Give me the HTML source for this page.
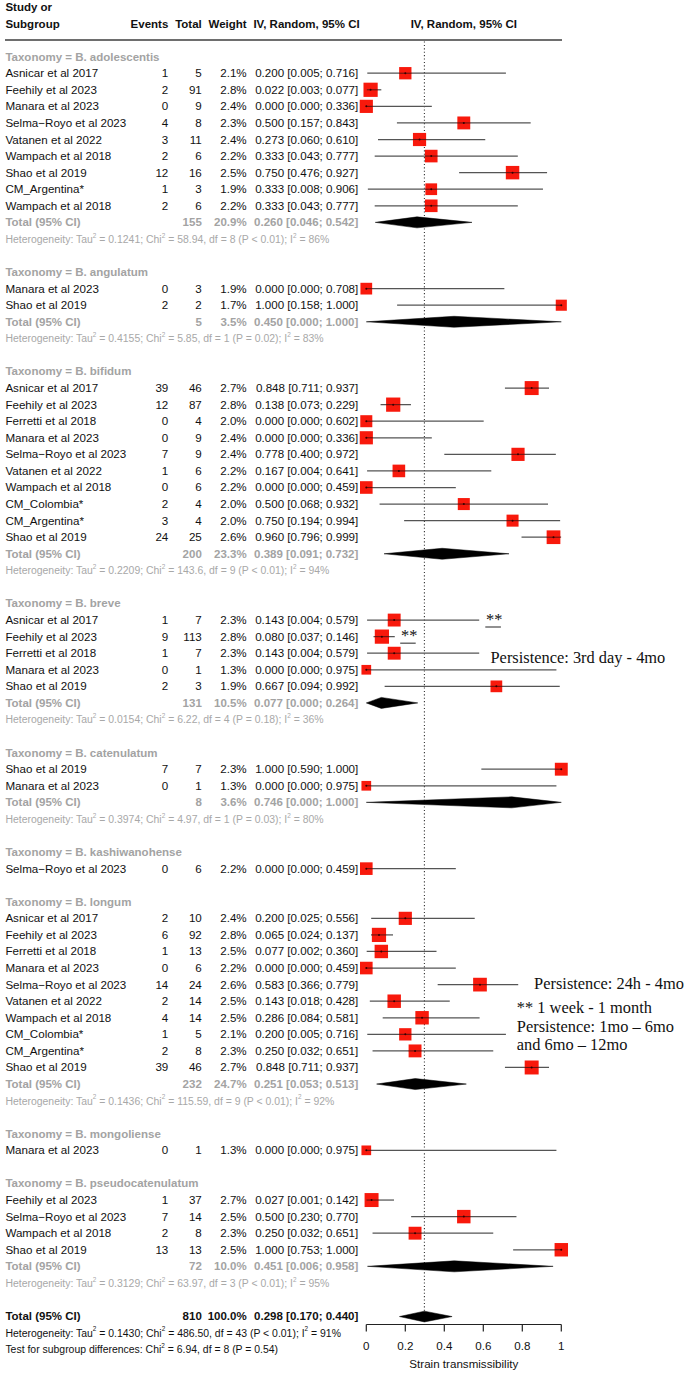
<!DOCTYPE html>
<html><head><meta charset="utf-8"><style>
html,body{margin:0;padding:0;background:#fff;}
svg{display:block;}
svg text{font-family:"Liberation Sans",sans-serif;}
</style></head><body>
<svg width="685" height="1374" viewBox="0 0 685 1374">
<rect width="685" height="1374" fill="#fff"/>
<line x1="5" y1="40" x2="562" y2="40" stroke="#6e6e6e" stroke-width="2"/>
<line x1="424.41" y1="41.5" x2="424.41" y2="1323" stroke="#333" stroke-width="1.1" stroke-dasharray="1.1 2.3"/>
<line x1="367.28" y1="73.22" x2="505.92" y2="73.22" stroke="#555" stroke-width="1.25"/>
<rect x="399.14" y="67.06" width="12.32" height="12.32" fill="#f8190c"/>
<line x1="399.14" y1="73.22" x2="411.46" y2="73.22" stroke="#3a1010" stroke-width="1.1" opacity="0.75"/>
<circle cx="405.30" cy="73.22" r="1.0" fill="#300"/>
<line x1="366.88" y1="89.79" x2="381.31" y2="89.79" stroke="#555" stroke-width="1.25"/>
<rect x="363.48" y="82.68" width="14.22" height="14.22" fill="#f8190c"/>
<line x1="366.88" y1="89.79" x2="377.70" y2="89.79" stroke="#3a1010" stroke-width="1.1" opacity="0.75"/>
<circle cx="370.59" cy="89.79" r="1.0" fill="#300"/>
<line x1="366.30" y1="106.36" x2="431.82" y2="106.36" stroke="#555" stroke-width="1.25"/>
<rect x="359.72" y="99.78" width="13.17" height="13.17" fill="#f8190c"/>
<line x1="366.30" y1="106.36" x2="372.88" y2="106.36" stroke="#3a1010" stroke-width="1.1" opacity="0.75"/>
<circle cx="366.30" cy="106.36" r="1.0" fill="#300"/>
<line x1="396.92" y1="122.93" x2="530.68" y2="122.93" stroke="#555" stroke-width="1.25"/>
<rect x="457.35" y="116.49" width="12.89" height="12.89" fill="#f8190c"/>
<line x1="457.35" y1="122.93" x2="470.25" y2="122.93" stroke="#3a1010" stroke-width="1.1" opacity="0.75"/>
<circle cx="463.80" cy="122.93" r="1.0" fill="#300"/>
<line x1="378.00" y1="139.51" x2="485.25" y2="139.51" stroke="#555" stroke-width="1.25"/>
<rect x="412.95" y="132.92" width="13.17" height="13.17" fill="#f8190c"/>
<line x1="412.95" y1="139.51" x2="426.12" y2="139.51" stroke="#3a1010" stroke-width="1.1" opacity="0.75"/>
<circle cx="419.54" cy="139.51" r="1.0" fill="#300"/>
<line x1="374.69" y1="156.08" x2="517.82" y2="156.08" stroke="#555" stroke-width="1.25"/>
<rect x="424.93" y="149.77" width="12.61" height="12.61" fill="#f8190c"/>
<line x1="424.93" y1="156.08" x2="437.54" y2="156.08" stroke="#3a1010" stroke-width="1.1" opacity="0.75"/>
<circle cx="431.24" cy="156.08" r="1.0" fill="#300"/>
<line x1="459.12" y1="172.65" x2="547.07" y2="172.65" stroke="#555" stroke-width="1.25"/>
<rect x="505.83" y="165.93" width="13.44" height="13.44" fill="#f8190c"/>
<line x1="505.83" y1="172.65" x2="519.27" y2="172.65" stroke="#3a1010" stroke-width="1.1" opacity="0.75"/>
<circle cx="512.55" cy="172.65" r="1.0" fill="#300"/>
<line x1="367.86" y1="189.22" x2="542.97" y2="189.22" stroke="#555" stroke-width="1.25"/>
<rect x="425.38" y="183.36" width="11.72" height="11.72" fill="#f8190c"/>
<line x1="425.38" y1="189.22" x2="437.09" y2="189.22" stroke="#3a1010" stroke-width="1.1" opacity="0.75"/>
<circle cx="431.24" cy="189.22" r="1.0" fill="#300"/>
<line x1="374.69" y1="205.79" x2="517.82" y2="205.79" stroke="#555" stroke-width="1.25"/>
<rect x="424.93" y="199.49" width="12.61" height="12.61" fill="#f8190c"/>
<line x1="424.93" y1="205.79" x2="437.54" y2="205.79" stroke="#3a1010" stroke-width="1.1" opacity="0.75"/>
<circle cx="431.24" cy="205.79" r="1.0" fill="#300"/>
<polygon points="375.27,222.36 417.00,216.86 471.99,222.36 417.00,227.86" fill="#000" stroke="#000" stroke-width="0.5"/>
<line x1="366.30" y1="288.64" x2="504.36" y2="288.64" stroke="#555" stroke-width="1.25"/>
<rect x="360.44" y="282.79" width="11.72" height="11.72" fill="#f8190c"/>
<line x1="366.30" y1="288.64" x2="372.16" y2="288.64" stroke="#3a1010" stroke-width="1.1" opacity="0.75"/>
<circle cx="366.30" cy="288.64" r="1.0" fill="#300"/>
<line x1="397.11" y1="305.22" x2="561.30" y2="305.22" stroke="#555" stroke-width="1.25"/>
<rect x="555.76" y="299.67" width="11.08" height="11.08" fill="#f8190c"/>
<line x1="555.76" y1="305.22" x2="561.30" y2="305.22" stroke="#3a1010" stroke-width="1.1" opacity="0.75"/>
<circle cx="561.30" cy="305.22" r="1.0" fill="#300"/>
<polygon points="366.30,321.79 454.05,316.29 561.30,321.79 454.05,327.29" fill="#000" stroke="#000" stroke-width="0.5"/>
<line x1="504.94" y1="388.07" x2="549.01" y2="388.07" stroke="#555" stroke-width="1.25"/>
<rect x="524.68" y="381.09" width="13.97" height="13.97" fill="#f8190c"/>
<line x1="524.68" y1="388.07" x2="538.64" y2="388.07" stroke="#3a1010" stroke-width="1.1" opacity="0.75"/>
<circle cx="531.66" cy="388.07" r="1.0" fill="#300"/>
<line x1="380.54" y1="404.64" x2="410.96" y2="404.64" stroke="#555" stroke-width="1.25"/>
<rect x="386.10" y="397.53" width="14.22" height="14.22" fill="#f8190c"/>
<line x1="386.10" y1="404.64" x2="400.32" y2="404.64" stroke="#3a1010" stroke-width="1.1" opacity="0.75"/>
<circle cx="393.21" cy="404.64" r="1.0" fill="#300"/>
<line x1="366.30" y1="421.21" x2="483.69" y2="421.21" stroke="#555" stroke-width="1.25"/>
<rect x="360.29" y="415.20" width="12.02" height="12.02" fill="#f8190c"/>
<line x1="366.30" y1="421.21" x2="372.31" y2="421.21" stroke="#3a1010" stroke-width="1.1" opacity="0.75"/>
<circle cx="366.30" cy="421.21" r="1.0" fill="#300"/>
<line x1="366.30" y1="437.78" x2="431.82" y2="437.78" stroke="#555" stroke-width="1.25"/>
<rect x="359.72" y="431.20" width="13.17" height="13.17" fill="#f8190c"/>
<line x1="366.30" y1="437.78" x2="372.88" y2="437.78" stroke="#3a1010" stroke-width="1.1" opacity="0.75"/>
<circle cx="366.30" cy="437.78" r="1.0" fill="#300"/>
<line x1="444.30" y1="454.35" x2="555.84" y2="454.35" stroke="#555" stroke-width="1.25"/>
<rect x="511.43" y="447.77" width="13.17" height="13.17" fill="#f8190c"/>
<line x1="511.43" y1="454.35" x2="524.59" y2="454.35" stroke="#3a1010" stroke-width="1.1" opacity="0.75"/>
<circle cx="518.01" cy="454.35" r="1.0" fill="#300"/>
<line x1="367.08" y1="470.93" x2="491.30" y2="470.93" stroke="#555" stroke-width="1.25"/>
<rect x="392.56" y="464.62" width="12.61" height="12.61" fill="#f8190c"/>
<line x1="392.56" y1="470.93" x2="405.17" y2="470.93" stroke="#3a1010" stroke-width="1.1" opacity="0.75"/>
<circle cx="398.87" cy="470.93" r="1.0" fill="#300"/>
<line x1="366.30" y1="487.50" x2="455.81" y2="487.50" stroke="#555" stroke-width="1.25"/>
<rect x="360.00" y="481.19" width="12.61" height="12.61" fill="#f8190c"/>
<line x1="366.30" y1="487.50" x2="372.60" y2="487.50" stroke="#3a1010" stroke-width="1.1" opacity="0.75"/>
<circle cx="366.30" cy="487.50" r="1.0" fill="#300"/>
<line x1="379.56" y1="504.07" x2="548.04" y2="504.07" stroke="#555" stroke-width="1.25"/>
<rect x="457.79" y="498.06" width="12.02" height="12.02" fill="#f8190c"/>
<line x1="457.79" y1="504.07" x2="469.81" y2="504.07" stroke="#3a1010" stroke-width="1.1" opacity="0.75"/>
<circle cx="463.80" cy="504.07" r="1.0" fill="#300"/>
<line x1="404.13" y1="520.64" x2="560.13" y2="520.64" stroke="#555" stroke-width="1.25"/>
<rect x="506.54" y="514.63" width="12.02" height="12.02" fill="#f8190c"/>
<line x1="506.54" y1="520.64" x2="518.56" y2="520.64" stroke="#3a1010" stroke-width="1.1" opacity="0.75"/>
<circle cx="512.55" cy="520.64" r="1.0" fill="#300"/>
<line x1="521.52" y1="537.21" x2="561.11" y2="537.21" stroke="#555" stroke-width="1.25"/>
<rect x="546.65" y="530.36" width="13.71" height="13.71" fill="#f8190c"/>
<line x1="546.65" y1="537.21" x2="560.35" y2="537.21" stroke="#3a1010" stroke-width="1.1" opacity="0.75"/>
<circle cx="553.50" cy="537.21" r="1.0" fill="#300"/>
<polygon points="384.05,553.78 442.16,548.28 509.04,553.78 442.16,559.28" fill="#000" stroke="#000" stroke-width="0.5"/>
<line x1="367.08" y1="620.06" x2="479.20" y2="620.06" stroke="#555" stroke-width="1.25"/>
<rect x="387.74" y="613.62" width="12.89" height="12.89" fill="#f8190c"/>
<line x1="387.74" y1="620.06" x2="400.63" y2="620.06" stroke="#3a1010" stroke-width="1.1" opacity="0.75"/>
<circle cx="394.19" cy="620.06" r="1.0" fill="#300"/>
<line x1="373.51" y1="636.63" x2="394.77" y2="636.63" stroke="#555" stroke-width="1.25"/>
<rect x="374.79" y="629.52" width="14.22" height="14.22" fill="#f8190c"/>
<line x1="374.79" y1="636.63" x2="389.01" y2="636.63" stroke="#3a1010" stroke-width="1.1" opacity="0.75"/>
<circle cx="381.90" cy="636.63" r="1.0" fill="#300"/>
<line x1="367.08" y1="653.21" x2="479.20" y2="653.21" stroke="#555" stroke-width="1.25"/>
<rect x="387.74" y="646.76" width="12.89" height="12.89" fill="#f8190c"/>
<line x1="387.74" y1="653.21" x2="400.63" y2="653.21" stroke="#3a1010" stroke-width="1.1" opacity="0.75"/>
<circle cx="394.19" cy="653.21" r="1.0" fill="#300"/>
<line x1="366.30" y1="669.78" x2="556.42" y2="669.78" stroke="#555" stroke-width="1.25"/>
<rect x="361.45" y="664.93" width="9.69" height="9.69" fill="#f8190c"/>
<line x1="366.30" y1="669.78" x2="371.15" y2="669.78" stroke="#3a1010" stroke-width="1.1" opacity="0.75"/>
<circle cx="366.30" cy="669.78" r="1.0" fill="#300"/>
<line x1="384.63" y1="686.35" x2="559.74" y2="686.35" stroke="#555" stroke-width="1.25"/>
<rect x="490.51" y="680.49" width="11.72" height="11.72" fill="#f8190c"/>
<line x1="490.51" y1="686.35" x2="502.22" y2="686.35" stroke="#3a1010" stroke-width="1.1" opacity="0.75"/>
<circle cx="496.37" cy="686.35" r="1.0" fill="#300"/>
<polygon points="366.30,702.92 381.31,697.42 417.78,702.92 381.31,708.42" fill="#000" stroke="#000" stroke-width="0.5"/>
<line x1="481.35" y1="769.20" x2="561.30" y2="769.20" stroke="#555" stroke-width="1.25"/>
<rect x="554.85" y="762.76" width="12.89" height="12.89" fill="#f8190c"/>
<line x1="554.85" y1="769.20" x2="561.30" y2="769.20" stroke="#3a1010" stroke-width="1.1" opacity="0.75"/>
<circle cx="561.30" cy="769.20" r="1.0" fill="#300"/>
<line x1="366.30" y1="785.77" x2="556.42" y2="785.77" stroke="#555" stroke-width="1.25"/>
<rect x="361.45" y="780.93" width="9.69" height="9.69" fill="#f8190c"/>
<line x1="366.30" y1="785.77" x2="371.15" y2="785.77" stroke="#3a1010" stroke-width="1.1" opacity="0.75"/>
<circle cx="366.30" cy="785.77" r="1.0" fill="#300"/>
<polygon points="366.30,802.35 511.77,796.85 561.30,802.35 511.77,807.85" fill="#000" stroke="#000" stroke-width="0.5"/>
<line x1="366.30" y1="868.63" x2="455.81" y2="868.63" stroke="#555" stroke-width="1.25"/>
<rect x="360.00" y="862.33" width="12.61" height="12.61" fill="#f8190c"/>
<line x1="366.30" y1="868.63" x2="372.60" y2="868.63" stroke="#3a1010" stroke-width="1.1" opacity="0.75"/>
<circle cx="366.30" cy="868.63" r="1.0" fill="#300"/>
<line x1="371.18" y1="918.34" x2="474.72" y2="918.34" stroke="#555" stroke-width="1.25"/>
<rect x="398.72" y="911.76" width="13.17" height="13.17" fill="#f8190c"/>
<line x1="398.72" y1="918.34" x2="411.88" y2="918.34" stroke="#3a1010" stroke-width="1.1" opacity="0.75"/>
<circle cx="405.30" cy="918.34" r="1.0" fill="#300"/>
<line x1="370.98" y1="934.91" x2="393.01" y2="934.91" stroke="#555" stroke-width="1.25"/>
<rect x="371.86" y="927.80" width="14.22" height="14.22" fill="#f8190c"/>
<line x1="371.86" y1="934.91" x2="386.09" y2="934.91" stroke="#3a1010" stroke-width="1.1" opacity="0.75"/>
<circle cx="378.98" cy="934.91" r="1.0" fill="#300"/>
<line x1="366.69" y1="951.48" x2="436.50" y2="951.48" stroke="#555" stroke-width="1.25"/>
<rect x="374.60" y="944.76" width="13.44" height="13.44" fill="#f8190c"/>
<line x1="374.60" y1="951.48" x2="388.03" y2="951.48" stroke="#3a1010" stroke-width="1.1" opacity="0.75"/>
<circle cx="381.31" cy="951.48" r="1.0" fill="#300"/>
<line x1="366.30" y1="968.06" x2="455.81" y2="968.06" stroke="#555" stroke-width="1.25"/>
<rect x="360.00" y="961.75" width="12.61" height="12.61" fill="#f8190c"/>
<line x1="366.30" y1="968.06" x2="372.60" y2="968.06" stroke="#3a1010" stroke-width="1.1" opacity="0.75"/>
<circle cx="366.30" cy="968.06" r="1.0" fill="#300"/>
<line x1="437.67" y1="984.63" x2="518.21" y2="984.63" stroke="#555" stroke-width="1.25"/>
<rect x="473.13" y="977.77" width="13.71" height="13.71" fill="#f8190c"/>
<line x1="473.13" y1="984.63" x2="486.84" y2="984.63" stroke="#3a1010" stroke-width="1.1" opacity="0.75"/>
<circle cx="479.99" cy="984.63" r="1.0" fill="#300"/>
<line x1="369.81" y1="1001.20" x2="449.76" y2="1001.20" stroke="#555" stroke-width="1.25"/>
<rect x="387.47" y="994.48" width="13.44" height="13.44" fill="#f8190c"/>
<line x1="387.47" y1="1001.20" x2="400.90" y2="1001.20" stroke="#3a1010" stroke-width="1.1" opacity="0.75"/>
<circle cx="394.19" cy="1001.20" r="1.0" fill="#300"/>
<line x1="382.68" y1="1017.77" x2="479.60" y2="1017.77" stroke="#555" stroke-width="1.25"/>
<rect x="415.35" y="1011.05" width="13.44" height="13.44" fill="#f8190c"/>
<line x1="415.35" y1="1017.77" x2="428.79" y2="1017.77" stroke="#3a1010" stroke-width="1.1" opacity="0.75"/>
<circle cx="422.07" cy="1017.77" r="1.0" fill="#300"/>
<line x1="367.28" y1="1034.34" x2="505.92" y2="1034.34" stroke="#555" stroke-width="1.25"/>
<rect x="399.14" y="1028.18" width="12.32" height="12.32" fill="#f8190c"/>
<line x1="399.14" y1="1034.34" x2="411.46" y2="1034.34" stroke="#3a1010" stroke-width="1.1" opacity="0.75"/>
<circle cx="405.30" cy="1034.34" r="1.0" fill="#300"/>
<line x1="372.54" y1="1050.91" x2="493.25" y2="1050.91" stroke="#555" stroke-width="1.25"/>
<rect x="408.60" y="1044.46" width="12.89" height="12.89" fill="#f8190c"/>
<line x1="408.60" y1="1050.91" x2="421.50" y2="1050.91" stroke="#3a1010" stroke-width="1.1" opacity="0.75"/>
<circle cx="415.05" cy="1050.91" r="1.0" fill="#300"/>
<line x1="504.94" y1="1067.48" x2="549.01" y2="1067.48" stroke="#555" stroke-width="1.25"/>
<rect x="524.68" y="1060.50" width="13.97" height="13.97" fill="#f8190c"/>
<line x1="524.68" y1="1067.48" x2="538.64" y2="1067.48" stroke="#3a1010" stroke-width="1.1" opacity="0.75"/>
<circle cx="531.66" cy="1067.48" r="1.0" fill="#300"/>
<polygon points="376.63,1084.05 415.25,1078.55 466.34,1084.05 415.25,1089.55" fill="#000" stroke="#000" stroke-width="0.5"/>
<line x1="366.30" y1="1150.34" x2="556.42" y2="1150.34" stroke="#555" stroke-width="1.25"/>
<rect x="361.45" y="1145.49" width="9.69" height="9.69" fill="#f8190c"/>
<line x1="366.30" y1="1150.34" x2="371.15" y2="1150.34" stroke="#3a1010" stroke-width="1.1" opacity="0.75"/>
<circle cx="366.30" cy="1150.34" r="1.0" fill="#300"/>
<line x1="366.50" y1="1200.05" x2="393.99" y2="1200.05" stroke="#555" stroke-width="1.25"/>
<rect x="364.58" y="1193.07" width="13.97" height="13.97" fill="#f8190c"/>
<line x1="366.50" y1="1200.05" x2="378.55" y2="1200.05" stroke="#3a1010" stroke-width="1.1" opacity="0.75"/>
<circle cx="371.56" cy="1200.05" r="1.0" fill="#300"/>
<line x1="411.15" y1="1216.62" x2="516.45" y2="1216.62" stroke="#555" stroke-width="1.25"/>
<rect x="457.08" y="1209.90" width="13.44" height="13.44" fill="#f8190c"/>
<line x1="457.08" y1="1216.62" x2="470.52" y2="1216.62" stroke="#3a1010" stroke-width="1.1" opacity="0.75"/>
<circle cx="463.80" cy="1216.62" r="1.0" fill="#300"/>
<line x1="372.54" y1="1233.19" x2="493.25" y2="1233.19" stroke="#555" stroke-width="1.25"/>
<rect x="408.60" y="1226.75" width="12.89" height="12.89" fill="#f8190c"/>
<line x1="408.60" y1="1233.19" x2="421.50" y2="1233.19" stroke="#3a1010" stroke-width="1.1" opacity="0.75"/>
<circle cx="415.05" cy="1233.19" r="1.0" fill="#300"/>
<line x1="513.13" y1="1249.76" x2="561.30" y2="1249.76" stroke="#555" stroke-width="1.25"/>
<rect x="554.58" y="1243.04" width="13.44" height="13.44" fill="#f8190c"/>
<line x1="554.58" y1="1249.76" x2="561.30" y2="1249.76" stroke="#3a1010" stroke-width="1.1" opacity="0.75"/>
<circle cx="561.30" cy="1249.76" r="1.0" fill="#300"/>
<polygon points="367.47,1266.33 454.25,1260.83 553.11,1266.33 454.25,1271.83" fill="#000" stroke="#000" stroke-width="0.5"/>
<polygon points="399.45,1316.55 424.41,1311.15 452.10,1316.55 424.41,1321.95" fill="#000" stroke="#000" stroke-width="0.5"/>
<text x="5.4" y="10.9" fill="#111" font-size="11.5" font-weight="bold">Study or</text>
<text x="5.4" y="27.5" fill="#111" font-size="11.5" font-weight="bold">Subgroup</text>
<text x="168.3" y="27.5" text-anchor="end" fill="#111" font-size="11.5" font-weight="bold">Events</text>
<text x="201.8" y="27.5" text-anchor="end" fill="#111" font-size="11.5" font-weight="bold">Total</text>
<text x="246.7" y="27.5" text-anchor="end" fill="#111" font-size="11.5" font-weight="bold">Weight</text>
<text x="359.7" y="27.5" text-anchor="end" fill="#111" font-size="11.5" font-weight="bold">IV, Random, 95% CI</text>
<text x="463.8" y="27.5" text-anchor="middle" fill="#111" font-size="11.5" font-weight="bold">IV, Random, 95% CI</text>
<text x="5.4" y="60.6" fill="#a3a3a3" font-size="11.5" font-weight="bold">Taxonomy = B. adolescentis</text>
<text x="5.4" y="77.2" fill="#111" font-size="11.6">Asnicar et al 2017</text>
<text x="168.3" y="77.2" text-anchor="end" fill="#111" font-size="11.6">1</text>
<text x="201.8" y="77.2" text-anchor="end" fill="#111" font-size="11.6">5</text>
<text x="246.7" y="77.2" text-anchor="end" fill="#111" font-size="11.6">2.1%</text>
<text x="358.3" y="77.2" text-anchor="end" fill="#111" font-size="11.6">0.200 [0.005; 0.716]</text>
<text x="5.4" y="93.7" fill="#111" font-size="11.6">Feehily et al 2023</text>
<text x="168.3" y="93.7" text-anchor="end" fill="#111" font-size="11.6">2</text>
<text x="201.8" y="93.7" text-anchor="end" fill="#111" font-size="11.6">91</text>
<text x="246.7" y="93.7" text-anchor="end" fill="#111" font-size="11.6">2.8%</text>
<text x="358.3" y="93.7" text-anchor="end" fill="#111" font-size="11.6">0.022 [0.003; 0.077]</text>
<text x="5.4" y="110.3" fill="#111" font-size="11.6">Manara et al 2023</text>
<text x="168.3" y="110.3" text-anchor="end" fill="#111" font-size="11.6">0</text>
<text x="201.8" y="110.3" text-anchor="end" fill="#111" font-size="11.6">9</text>
<text x="246.7" y="110.3" text-anchor="end" fill="#111" font-size="11.6">2.4%</text>
<text x="358.3" y="110.3" text-anchor="end" fill="#111" font-size="11.6">0.000 [0.000; 0.336]</text>
<text x="5.4" y="126.9" fill="#111" font-size="11.6">Selma−Royo et al 2023</text>
<text x="168.3" y="126.9" text-anchor="end" fill="#111" font-size="11.6">4</text>
<text x="201.8" y="126.9" text-anchor="end" fill="#111" font-size="11.6">8</text>
<text x="246.7" y="126.9" text-anchor="end" fill="#111" font-size="11.6">2.3%</text>
<text x="358.3" y="126.9" text-anchor="end" fill="#111" font-size="11.6">0.500 [0.157; 0.843]</text>
<text x="5.4" y="143.5" fill="#111" font-size="11.6">Vatanen et al 2022</text>
<text x="168.3" y="143.5" text-anchor="end" fill="#111" font-size="11.6">3</text>
<text x="201.8" y="143.5" text-anchor="end" fill="#111" font-size="11.6">11</text>
<text x="246.7" y="143.5" text-anchor="end" fill="#111" font-size="11.6">2.4%</text>
<text x="358.3" y="143.5" text-anchor="end" fill="#111" font-size="11.6">0.273 [0.060; 0.610]</text>
<text x="5.4" y="160.0" fill="#111" font-size="11.6">Wampach et al 2018</text>
<text x="168.3" y="160.0" text-anchor="end" fill="#111" font-size="11.6">2</text>
<text x="201.8" y="160.0" text-anchor="end" fill="#111" font-size="11.6">6</text>
<text x="246.7" y="160.0" text-anchor="end" fill="#111" font-size="11.6">2.2%</text>
<text x="358.3" y="160.0" text-anchor="end" fill="#111" font-size="11.6">0.333 [0.043; 0.777]</text>
<text x="5.4" y="176.6" fill="#111" font-size="11.6">Shao et al 2019</text>
<text x="168.3" y="176.6" text-anchor="end" fill="#111" font-size="11.6">12</text>
<text x="201.8" y="176.6" text-anchor="end" fill="#111" font-size="11.6">16</text>
<text x="246.7" y="176.6" text-anchor="end" fill="#111" font-size="11.6">2.5%</text>
<text x="358.3" y="176.6" text-anchor="end" fill="#111" font-size="11.6">0.750 [0.476; 0.927]</text>
<text x="5.4" y="193.2" fill="#111" font-size="11.6">CM_Argentina*</text>
<text x="168.3" y="193.2" text-anchor="end" fill="#111" font-size="11.6">1</text>
<text x="201.8" y="193.2" text-anchor="end" fill="#111" font-size="11.6">3</text>
<text x="246.7" y="193.2" text-anchor="end" fill="#111" font-size="11.6">1.9%</text>
<text x="358.3" y="193.2" text-anchor="end" fill="#111" font-size="11.6">0.333 [0.008; 0.906]</text>
<text x="5.4" y="209.7" fill="#111" font-size="11.6">Wampach et al 2018</text>
<text x="168.3" y="209.7" text-anchor="end" fill="#111" font-size="11.6">2</text>
<text x="201.8" y="209.7" text-anchor="end" fill="#111" font-size="11.6">6</text>
<text x="246.7" y="209.7" text-anchor="end" fill="#111" font-size="11.6">2.2%</text>
<text x="358.3" y="209.7" text-anchor="end" fill="#111" font-size="11.6">0.333 [0.043; 0.777]</text>
<text x="5.4" y="226.3" fill="#a3a3a3" font-size="11.5" font-weight="bold">Total (95% CI)</text>
<text x="201.8" y="226.3" text-anchor="end" fill="#a3a3a3" font-size="11.5" font-weight="bold">155</text>
<text x="246.7" y="226.3" text-anchor="end" fill="#a3a3a3" font-size="11.5" font-weight="bold">20.9%</text>
<text x="358.3" y="226.3" text-anchor="end" fill="#a3a3a3" font-size="11.5" font-weight="bold">0.260 [0.046; 0.542]</text>
<text x="5.4" y="242.9" fill="#a8a8a8" font-size="10.45">Heterogeneity: Tau<tspan font-size="6.4" dy="-5.3">2</tspan><tspan dy="5.3"> = 0.1241; Chi</tspan><tspan font-size="6.4" dy="-5.3">2</tspan><tspan dy="5.3"> = 58.94, df = 8 (P &lt; 0.01); I</tspan><tspan font-size="6.4" dy="-5.3">2</tspan><tspan dy="5.3"> = 86%</tspan></text>
<text x="5.4" y="276.0" fill="#a3a3a3" font-size="11.5" font-weight="bold">Taxonomy = B. angulatum</text>
<text x="5.4" y="292.6" fill="#111" font-size="11.6">Manara et al 2023</text>
<text x="168.3" y="292.6" text-anchor="end" fill="#111" font-size="11.6">0</text>
<text x="201.8" y="292.6" text-anchor="end" fill="#111" font-size="11.6">3</text>
<text x="246.7" y="292.6" text-anchor="end" fill="#111" font-size="11.6">1.9%</text>
<text x="358.3" y="292.6" text-anchor="end" fill="#111" font-size="11.6">0.000 [0.000; 0.708]</text>
<text x="5.4" y="309.2" fill="#111" font-size="11.6">Shao et al 2019</text>
<text x="168.3" y="309.2" text-anchor="end" fill="#111" font-size="11.6">2</text>
<text x="201.8" y="309.2" text-anchor="end" fill="#111" font-size="11.6">2</text>
<text x="246.7" y="309.2" text-anchor="end" fill="#111" font-size="11.6">1.7%</text>
<text x="358.3" y="309.2" text-anchor="end" fill="#111" font-size="11.6">1.000 [0.158; 1.000]</text>
<text x="5.4" y="325.7" fill="#a3a3a3" font-size="11.5" font-weight="bold">Total (95% CI)</text>
<text x="201.8" y="325.7" text-anchor="end" fill="#a3a3a3" font-size="11.5" font-weight="bold">5</text>
<text x="246.7" y="325.7" text-anchor="end" fill="#a3a3a3" font-size="11.5" font-weight="bold">3.5%</text>
<text x="358.3" y="325.7" text-anchor="end" fill="#a3a3a3" font-size="11.5" font-weight="bold">0.450 [0.000; 1.000]</text>
<text x="5.4" y="342.3" fill="#a8a8a8" font-size="10.45">Heterogeneity: Tau<tspan font-size="6.4" dy="-5.3">2</tspan><tspan dy="5.3"> = 0.4155; Chi</tspan><tspan font-size="6.4" dy="-5.3">2</tspan><tspan dy="5.3"> = 5.85, df = 1 (P = 0.02); I</tspan><tspan font-size="6.4" dy="-5.3">2</tspan><tspan dy="5.3"> = 83%</tspan></text>
<text x="5.4" y="375.4" fill="#a3a3a3" font-size="11.5" font-weight="bold">Taxonomy = B. bifidum</text>
<text x="5.4" y="392.0" fill="#111" font-size="11.6">Asnicar et al 2017</text>
<text x="168.3" y="392.0" text-anchor="end" fill="#111" font-size="11.6">39</text>
<text x="201.8" y="392.0" text-anchor="end" fill="#111" font-size="11.6">46</text>
<text x="246.7" y="392.0" text-anchor="end" fill="#111" font-size="11.6">2.7%</text>
<text x="358.3" y="392.0" text-anchor="end" fill="#111" font-size="11.6">0.848 [0.711; 0.937]</text>
<text x="5.4" y="408.6" fill="#111" font-size="11.6">Feehily et al 2023</text>
<text x="168.3" y="408.6" text-anchor="end" fill="#111" font-size="11.6">12</text>
<text x="201.8" y="408.6" text-anchor="end" fill="#111" font-size="11.6">87</text>
<text x="246.7" y="408.6" text-anchor="end" fill="#111" font-size="11.6">2.8%</text>
<text x="358.3" y="408.6" text-anchor="end" fill="#111" font-size="11.6">0.138 [0.073; 0.229]</text>
<text x="5.4" y="425.2" fill="#111" font-size="11.6">Ferretti et al 2018</text>
<text x="168.3" y="425.2" text-anchor="end" fill="#111" font-size="11.6">0</text>
<text x="201.8" y="425.2" text-anchor="end" fill="#111" font-size="11.6">4</text>
<text x="246.7" y="425.2" text-anchor="end" fill="#111" font-size="11.6">2.0%</text>
<text x="358.3" y="425.2" text-anchor="end" fill="#111" font-size="11.6">0.000 [0.000; 0.602]</text>
<text x="5.4" y="441.7" fill="#111" font-size="11.6">Manara et al 2023</text>
<text x="168.3" y="441.7" text-anchor="end" fill="#111" font-size="11.6">0</text>
<text x="201.8" y="441.7" text-anchor="end" fill="#111" font-size="11.6">9</text>
<text x="246.7" y="441.7" text-anchor="end" fill="#111" font-size="11.6">2.4%</text>
<text x="358.3" y="441.7" text-anchor="end" fill="#111" font-size="11.6">0.000 [0.000; 0.336]</text>
<text x="5.4" y="458.3" fill="#111" font-size="11.6">Selma−Royo et al 2023</text>
<text x="168.3" y="458.3" text-anchor="end" fill="#111" font-size="11.6">7</text>
<text x="201.8" y="458.3" text-anchor="end" fill="#111" font-size="11.6">9</text>
<text x="246.7" y="458.3" text-anchor="end" fill="#111" font-size="11.6">2.4%</text>
<text x="358.3" y="458.3" text-anchor="end" fill="#111" font-size="11.6">0.778 [0.400; 0.972]</text>
<text x="5.4" y="474.9" fill="#111" font-size="11.6">Vatanen et al 2022</text>
<text x="168.3" y="474.9" text-anchor="end" fill="#111" font-size="11.6">1</text>
<text x="201.8" y="474.9" text-anchor="end" fill="#111" font-size="11.6">6</text>
<text x="246.7" y="474.9" text-anchor="end" fill="#111" font-size="11.6">2.2%</text>
<text x="358.3" y="474.9" text-anchor="end" fill="#111" font-size="11.6">0.167 [0.004; 0.641]</text>
<text x="5.4" y="491.4" fill="#111" font-size="11.6">Wampach et al 2018</text>
<text x="168.3" y="491.4" text-anchor="end" fill="#111" font-size="11.6">0</text>
<text x="201.8" y="491.4" text-anchor="end" fill="#111" font-size="11.6">6</text>
<text x="246.7" y="491.4" text-anchor="end" fill="#111" font-size="11.6">2.2%</text>
<text x="358.3" y="491.4" text-anchor="end" fill="#111" font-size="11.6">0.000 [0.000; 0.459]</text>
<text x="5.4" y="508.0" fill="#111" font-size="11.6">CM_Colombia*</text>
<text x="168.3" y="508.0" text-anchor="end" fill="#111" font-size="11.6">2</text>
<text x="201.8" y="508.0" text-anchor="end" fill="#111" font-size="11.6">4</text>
<text x="246.7" y="508.0" text-anchor="end" fill="#111" font-size="11.6">2.0%</text>
<text x="358.3" y="508.0" text-anchor="end" fill="#111" font-size="11.6">0.500 [0.068; 0.932]</text>
<text x="5.4" y="524.6" fill="#111" font-size="11.6">CM_Argentina*</text>
<text x="168.3" y="524.6" text-anchor="end" fill="#111" font-size="11.6">3</text>
<text x="201.8" y="524.6" text-anchor="end" fill="#111" font-size="11.6">4</text>
<text x="246.7" y="524.6" text-anchor="end" fill="#111" font-size="11.6">2.0%</text>
<text x="358.3" y="524.6" text-anchor="end" fill="#111" font-size="11.6">0.750 [0.194; 0.994]</text>
<text x="5.4" y="541.2" fill="#111" font-size="11.6">Shao et al 2019</text>
<text x="168.3" y="541.2" text-anchor="end" fill="#111" font-size="11.6">24</text>
<text x="201.8" y="541.2" text-anchor="end" fill="#111" font-size="11.6">25</text>
<text x="246.7" y="541.2" text-anchor="end" fill="#111" font-size="11.6">2.6%</text>
<text x="358.3" y="541.2" text-anchor="end" fill="#111" font-size="11.6">0.960 [0.796; 0.999]</text>
<text x="5.4" y="557.7" fill="#a3a3a3" font-size="11.5" font-weight="bold">Total (95% CI)</text>
<text x="201.8" y="557.7" text-anchor="end" fill="#a3a3a3" font-size="11.5" font-weight="bold">200</text>
<text x="246.7" y="557.7" text-anchor="end" fill="#a3a3a3" font-size="11.5" font-weight="bold">23.3%</text>
<text x="358.3" y="557.7" text-anchor="end" fill="#a3a3a3" font-size="11.5" font-weight="bold">0.389 [0.091; 0.732]</text>
<text x="5.4" y="574.3" fill="#a8a8a8" font-size="10.45">Heterogeneity: Tau<tspan font-size="6.4" dy="-5.3">2</tspan><tspan dy="5.3"> = 0.2209; Chi</tspan><tspan font-size="6.4" dy="-5.3">2</tspan><tspan dy="5.3"> = 143.6, df = 9 (P &lt; 0.01); I</tspan><tspan font-size="6.4" dy="-5.3">2</tspan><tspan dy="5.3"> = 94%</tspan></text>
<text x="5.4" y="607.4" fill="#a3a3a3" font-size="11.5" font-weight="bold">Taxonomy = B. breve</text>
<text x="5.4" y="624.0" fill="#111" font-size="11.6">Asnicar et al 2017</text>
<text x="168.3" y="624.0" text-anchor="end" fill="#111" font-size="11.6">1</text>
<text x="201.8" y="624.0" text-anchor="end" fill="#111" font-size="11.6">7</text>
<text x="246.7" y="624.0" text-anchor="end" fill="#111" font-size="11.6">2.3%</text>
<text x="358.3" y="624.0" text-anchor="end" fill="#111" font-size="11.6">0.143 [0.004; 0.579]</text>
<text x="5.4" y="640.6" fill="#111" font-size="11.6">Feehily et al 2023</text>
<text x="168.3" y="640.6" text-anchor="end" fill="#111" font-size="11.6">9</text>
<text x="201.8" y="640.6" text-anchor="end" fill="#111" font-size="11.6">113</text>
<text x="246.7" y="640.6" text-anchor="end" fill="#111" font-size="11.6">2.8%</text>
<text x="358.3" y="640.6" text-anchor="end" fill="#111" font-size="11.6">0.080 [0.037; 0.146]</text>
<text x="5.4" y="657.2" fill="#111" font-size="11.6">Ferretti et al 2018</text>
<text x="168.3" y="657.2" text-anchor="end" fill="#111" font-size="11.6">1</text>
<text x="201.8" y="657.2" text-anchor="end" fill="#111" font-size="11.6">7</text>
<text x="246.7" y="657.2" text-anchor="end" fill="#111" font-size="11.6">2.3%</text>
<text x="358.3" y="657.2" text-anchor="end" fill="#111" font-size="11.6">0.143 [0.004; 0.579]</text>
<text x="5.4" y="673.7" fill="#111" font-size="11.6">Manara et al 2023</text>
<text x="168.3" y="673.7" text-anchor="end" fill="#111" font-size="11.6">0</text>
<text x="201.8" y="673.7" text-anchor="end" fill="#111" font-size="11.6">1</text>
<text x="246.7" y="673.7" text-anchor="end" fill="#111" font-size="11.6">1.3%</text>
<text x="358.3" y="673.7" text-anchor="end" fill="#111" font-size="11.6">0.000 [0.000; 0.975]</text>
<text x="5.4" y="690.3" fill="#111" font-size="11.6">Shao et al 2019</text>
<text x="168.3" y="690.3" text-anchor="end" fill="#111" font-size="11.6">2</text>
<text x="201.8" y="690.3" text-anchor="end" fill="#111" font-size="11.6">3</text>
<text x="246.7" y="690.3" text-anchor="end" fill="#111" font-size="11.6">1.9%</text>
<text x="358.3" y="690.3" text-anchor="end" fill="#111" font-size="11.6">0.667 [0.094; 0.992]</text>
<text x="5.4" y="706.9" fill="#a3a3a3" font-size="11.5" font-weight="bold">Total (95% CI)</text>
<text x="201.8" y="706.9" text-anchor="end" fill="#a3a3a3" font-size="11.5" font-weight="bold">131</text>
<text x="246.7" y="706.9" text-anchor="end" fill="#a3a3a3" font-size="11.5" font-weight="bold">10.5%</text>
<text x="358.3" y="706.9" text-anchor="end" fill="#a3a3a3" font-size="11.5" font-weight="bold">0.077 [0.000; 0.264]</text>
<text x="5.4" y="723.4" fill="#a8a8a8" font-size="10.45">Heterogeneity: Tau<tspan font-size="6.4" dy="-5.3">2</tspan><tspan dy="5.3"> = 0.0154; Chi</tspan><tspan font-size="6.4" dy="-5.3">2</tspan><tspan dy="5.3"> = 6.22, df = 4 (P = 0.18); I</tspan><tspan font-size="6.4" dy="-5.3">2</tspan><tspan dy="5.3"> = 36%</tspan></text>
<text x="5.4" y="756.6" fill="#a3a3a3" font-size="11.5" font-weight="bold">Taxonomy = B. catenulatum</text>
<text x="5.4" y="773.2" fill="#111" font-size="11.6">Shao et al 2019</text>
<text x="168.3" y="773.2" text-anchor="end" fill="#111" font-size="11.6">7</text>
<text x="201.8" y="773.2" text-anchor="end" fill="#111" font-size="11.6">7</text>
<text x="246.7" y="773.2" text-anchor="end" fill="#111" font-size="11.6">2.3%</text>
<text x="358.3" y="773.2" text-anchor="end" fill="#111" font-size="11.6">1.000 [0.590; 1.000]</text>
<text x="5.4" y="789.7" fill="#111" font-size="11.6">Manara et al 2023</text>
<text x="168.3" y="789.7" text-anchor="end" fill="#111" font-size="11.6">0</text>
<text x="201.8" y="789.7" text-anchor="end" fill="#111" font-size="11.6">1</text>
<text x="246.7" y="789.7" text-anchor="end" fill="#111" font-size="11.6">1.3%</text>
<text x="358.3" y="789.7" text-anchor="end" fill="#111" font-size="11.6">0.000 [0.000; 0.975]</text>
<text x="5.4" y="806.3" fill="#a3a3a3" font-size="11.5" font-weight="bold">Total (95% CI)</text>
<text x="201.8" y="806.3" text-anchor="end" fill="#a3a3a3" font-size="11.5" font-weight="bold">8</text>
<text x="246.7" y="806.3" text-anchor="end" fill="#a3a3a3" font-size="11.5" font-weight="bold">3.6%</text>
<text x="358.3" y="806.3" text-anchor="end" fill="#a3a3a3" font-size="11.5" font-weight="bold">0.746 [0.000; 1.000]</text>
<text x="5.4" y="822.9" fill="#a8a8a8" font-size="10.45">Heterogeneity: Tau<tspan font-size="6.4" dy="-5.3">2</tspan><tspan dy="5.3"> = 0.3974; Chi</tspan><tspan font-size="6.4" dy="-5.3">2</tspan><tspan dy="5.3"> = 4.97, df = 1 (P = 0.03); I</tspan><tspan font-size="6.4" dy="-5.3">2</tspan><tspan dy="5.3"> = 80%</tspan></text>
<text x="5.4" y="856.0" fill="#a3a3a3" font-size="11.5" font-weight="bold">Taxonomy = B. kashiwanohense</text>
<text x="5.4" y="872.6" fill="#111" font-size="11.6">Selma−Royo et al 2023</text>
<text x="168.3" y="872.6" text-anchor="end" fill="#111" font-size="11.6">0</text>
<text x="201.8" y="872.6" text-anchor="end" fill="#111" font-size="11.6">6</text>
<text x="246.7" y="872.6" text-anchor="end" fill="#111" font-size="11.6">2.2%</text>
<text x="358.3" y="872.6" text-anchor="end" fill="#111" font-size="11.6">0.000 [0.000; 0.459]</text>
<text x="5.4" y="905.7" fill="#a3a3a3" font-size="11.5" font-weight="bold">Taxonomy = B. longum</text>
<text x="5.4" y="922.3" fill="#111" font-size="11.6">Asnicar et al 2017</text>
<text x="168.3" y="922.3" text-anchor="end" fill="#111" font-size="11.6">2</text>
<text x="201.8" y="922.3" text-anchor="end" fill="#111" font-size="11.6">10</text>
<text x="246.7" y="922.3" text-anchor="end" fill="#111" font-size="11.6">2.4%</text>
<text x="358.3" y="922.3" text-anchor="end" fill="#111" font-size="11.6">0.200 [0.025; 0.556]</text>
<text x="5.4" y="938.9" fill="#111" font-size="11.6">Feehily et al 2023</text>
<text x="168.3" y="938.9" text-anchor="end" fill="#111" font-size="11.6">6</text>
<text x="201.8" y="938.9" text-anchor="end" fill="#111" font-size="11.6">92</text>
<text x="246.7" y="938.9" text-anchor="end" fill="#111" font-size="11.6">2.8%</text>
<text x="358.3" y="938.9" text-anchor="end" fill="#111" font-size="11.6">0.065 [0.024; 0.137]</text>
<text x="5.4" y="955.4" fill="#111" font-size="11.6">Ferretti et al 2018</text>
<text x="168.3" y="955.4" text-anchor="end" fill="#111" font-size="11.6">1</text>
<text x="201.8" y="955.4" text-anchor="end" fill="#111" font-size="11.6">13</text>
<text x="246.7" y="955.4" text-anchor="end" fill="#111" font-size="11.6">2.5%</text>
<text x="358.3" y="955.4" text-anchor="end" fill="#111" font-size="11.6">0.077 [0.002; 0.360]</text>
<text x="5.4" y="972.0" fill="#111" font-size="11.6">Manara et al 2023</text>
<text x="168.3" y="972.0" text-anchor="end" fill="#111" font-size="11.6">0</text>
<text x="201.8" y="972.0" text-anchor="end" fill="#111" font-size="11.6">6</text>
<text x="246.7" y="972.0" text-anchor="end" fill="#111" font-size="11.6">2.2%</text>
<text x="358.3" y="972.0" text-anchor="end" fill="#111" font-size="11.6">0.000 [0.000; 0.459]</text>
<text x="5.4" y="988.6" fill="#111" font-size="11.6">Selma−Royo et al 2023</text>
<text x="168.3" y="988.6" text-anchor="end" fill="#111" font-size="11.6">14</text>
<text x="201.8" y="988.6" text-anchor="end" fill="#111" font-size="11.6">24</text>
<text x="246.7" y="988.6" text-anchor="end" fill="#111" font-size="11.6">2.6%</text>
<text x="358.3" y="988.6" text-anchor="end" fill="#111" font-size="11.6">0.583 [0.366; 0.779]</text>
<text x="5.4" y="1005.1" fill="#111" font-size="11.6">Vatanen et al 2022</text>
<text x="168.3" y="1005.1" text-anchor="end" fill="#111" font-size="11.6">2</text>
<text x="201.8" y="1005.1" text-anchor="end" fill="#111" font-size="11.6">14</text>
<text x="246.7" y="1005.1" text-anchor="end" fill="#111" font-size="11.6">2.5%</text>
<text x="358.3" y="1005.1" text-anchor="end" fill="#111" font-size="11.6">0.143 [0.018; 0.428]</text>
<text x="5.4" y="1021.7" fill="#111" font-size="11.6">Wampach et al 2018</text>
<text x="168.3" y="1021.7" text-anchor="end" fill="#111" font-size="11.6">4</text>
<text x="201.8" y="1021.7" text-anchor="end" fill="#111" font-size="11.6">14</text>
<text x="246.7" y="1021.7" text-anchor="end" fill="#111" font-size="11.6">2.5%</text>
<text x="358.3" y="1021.7" text-anchor="end" fill="#111" font-size="11.6">0.286 [0.084; 0.581]</text>
<text x="5.4" y="1038.3" fill="#111" font-size="11.6">CM_Colombia*</text>
<text x="168.3" y="1038.3" text-anchor="end" fill="#111" font-size="11.6">1</text>
<text x="201.8" y="1038.3" text-anchor="end" fill="#111" font-size="11.6">5</text>
<text x="246.7" y="1038.3" text-anchor="end" fill="#111" font-size="11.6">2.1%</text>
<text x="358.3" y="1038.3" text-anchor="end" fill="#111" font-size="11.6">0.200 [0.005; 0.716]</text>
<text x="5.4" y="1054.9" fill="#111" font-size="11.6">CM_Argentina*</text>
<text x="168.3" y="1054.9" text-anchor="end" fill="#111" font-size="11.6">2</text>
<text x="201.8" y="1054.9" text-anchor="end" fill="#111" font-size="11.6">8</text>
<text x="246.7" y="1054.9" text-anchor="end" fill="#111" font-size="11.6">2.3%</text>
<text x="358.3" y="1054.9" text-anchor="end" fill="#111" font-size="11.6">0.250 [0.032; 0.651]</text>
<text x="5.4" y="1071.4" fill="#111" font-size="11.6">Shao et al 2019</text>
<text x="168.3" y="1071.4" text-anchor="end" fill="#111" font-size="11.6">39</text>
<text x="201.8" y="1071.4" text-anchor="end" fill="#111" font-size="11.6">46</text>
<text x="246.7" y="1071.4" text-anchor="end" fill="#111" font-size="11.6">2.7%</text>
<text x="358.3" y="1071.4" text-anchor="end" fill="#111" font-size="11.6">0.848 [0.711; 0.937]</text>
<text x="5.4" y="1088.0" fill="#a3a3a3" font-size="11.5" font-weight="bold">Total (95% CI)</text>
<text x="201.8" y="1088.0" text-anchor="end" fill="#a3a3a3" font-size="11.5" font-weight="bold">232</text>
<text x="246.7" y="1088.0" text-anchor="end" fill="#a3a3a3" font-size="11.5" font-weight="bold">24.7%</text>
<text x="358.3" y="1088.0" text-anchor="end" fill="#a3a3a3" font-size="11.5" font-weight="bold">0.251 [0.053; 0.513]</text>
<text x="5.4" y="1104.6" fill="#a8a8a8" font-size="10.45">Heterogeneity: Tau<tspan font-size="6.4" dy="-5.3">2</tspan><tspan dy="5.3"> = 0.1436; Chi</tspan><tspan font-size="6.4" dy="-5.3">2</tspan><tspan dy="5.3"> = 115.59, df = 9 (P &lt; 0.01); I</tspan><tspan font-size="6.4" dy="-5.3">2</tspan><tspan dy="5.3"> = 92%</tspan></text>
<text x="5.4" y="1137.7" fill="#a3a3a3" font-size="11.5" font-weight="bold">Taxonomy = B. mongoliense</text>
<text x="5.4" y="1154.3" fill="#111" font-size="11.6">Manara et al 2023</text>
<text x="168.3" y="1154.3" text-anchor="end" fill="#111" font-size="11.6">0</text>
<text x="201.8" y="1154.3" text-anchor="end" fill="#111" font-size="11.6">1</text>
<text x="246.7" y="1154.3" text-anchor="end" fill="#111" font-size="11.6">1.3%</text>
<text x="358.3" y="1154.3" text-anchor="end" fill="#111" font-size="11.6">0.000 [0.000; 0.975]</text>
<text x="5.4" y="1187.4" fill="#a3a3a3" font-size="11.5" font-weight="bold">Taxonomy = B. pseudocatenulatum</text>
<text x="5.4" y="1204.0" fill="#111" font-size="11.6">Feehily et al 2023</text>
<text x="168.3" y="1204.0" text-anchor="end" fill="#111" font-size="11.6">1</text>
<text x="201.8" y="1204.0" text-anchor="end" fill="#111" font-size="11.6">37</text>
<text x="246.7" y="1204.0" text-anchor="end" fill="#111" font-size="11.6">2.7%</text>
<text x="358.3" y="1204.0" text-anchor="end" fill="#111" font-size="11.6">0.027 [0.001; 0.142]</text>
<text x="5.4" y="1220.6" fill="#111" font-size="11.6">Selma−Royo et al 2023</text>
<text x="168.3" y="1220.6" text-anchor="end" fill="#111" font-size="11.6">7</text>
<text x="201.8" y="1220.6" text-anchor="end" fill="#111" font-size="11.6">14</text>
<text x="246.7" y="1220.6" text-anchor="end" fill="#111" font-size="11.6">2.5%</text>
<text x="358.3" y="1220.6" text-anchor="end" fill="#111" font-size="11.6">0.500 [0.230; 0.770]</text>
<text x="5.4" y="1237.1" fill="#111" font-size="11.6">Wampach et al 2018</text>
<text x="168.3" y="1237.1" text-anchor="end" fill="#111" font-size="11.6">2</text>
<text x="201.8" y="1237.1" text-anchor="end" fill="#111" font-size="11.6">8</text>
<text x="246.7" y="1237.1" text-anchor="end" fill="#111" font-size="11.6">2.3%</text>
<text x="358.3" y="1237.1" text-anchor="end" fill="#111" font-size="11.6">0.250 [0.032; 0.651]</text>
<text x="5.4" y="1253.7" fill="#111" font-size="11.6">Shao et al 2019</text>
<text x="168.3" y="1253.7" text-anchor="end" fill="#111" font-size="11.6">13</text>
<text x="201.8" y="1253.7" text-anchor="end" fill="#111" font-size="11.6">13</text>
<text x="246.7" y="1253.7" text-anchor="end" fill="#111" font-size="11.6">2.5%</text>
<text x="358.3" y="1253.7" text-anchor="end" fill="#111" font-size="11.6">1.000 [0.753; 1.000]</text>
<text x="5.4" y="1270.3" fill="#a3a3a3" font-size="11.5" font-weight="bold">Total (95% CI)</text>
<text x="201.8" y="1270.3" text-anchor="end" fill="#a3a3a3" font-size="11.5" font-weight="bold">72</text>
<text x="246.7" y="1270.3" text-anchor="end" fill="#a3a3a3" font-size="11.5" font-weight="bold">10.0%</text>
<text x="358.3" y="1270.3" text-anchor="end" fill="#a3a3a3" font-size="11.5" font-weight="bold">0.451 [0.006; 0.958]</text>
<text x="5.4" y="1286.9" fill="#a8a8a8" font-size="10.45">Heterogeneity: Tau<tspan font-size="6.4" dy="-5.3">2</tspan><tspan dy="5.3"> = 0.3129; Chi</tspan><tspan font-size="6.4" dy="-5.3">2</tspan><tspan dy="5.3"> = 63.97, df = 3 (P &lt; 0.01); I</tspan><tspan font-size="6.4" dy="-5.3">2</tspan><tspan dy="5.3"> = 95%</tspan></text>
<text x="5.4" y="1320.0" fill="#111" font-size="11.5" font-weight="bold">Total (95% CI)</text>
<text x="201.8" y="1320.0" text-anchor="end" fill="#111" font-size="11.5" font-weight="bold">810</text>
<text x="246.7" y="1320.0" text-anchor="end" fill="#111" font-size="11.5" font-weight="bold">100.0%</text>
<text x="358.3" y="1320.0" text-anchor="end" fill="#111" font-size="11.5" font-weight="bold">0.298 [0.170; 0.440]</text>
<text x="5.4" y="1336.6" fill="#111" font-size="10.45">Heterogeneity: Tau<tspan font-size="6.4" dy="-5.3">2</tspan><tspan dy="5.3"> = 0.1430; Chi</tspan><tspan font-size="6.4" dy="-5.3">2</tspan><tspan dy="5.3"> = 486.50, df = 43 (P &lt; 0.01); I</tspan><tspan font-size="6.4" dy="-5.3">2</tspan><tspan dy="5.3"> = 91%</tspan></text>
<text x="5.4" y="1353.1" fill="#111" font-size="10.45">Test for subgroup differences: Chi<tspan font-size="6.4" dy="-5.3">2</tspan><tspan dy="5.3"> = 6.94, df = 8 (P = 0.54)</tspan></text>
<line x1="366.30" y1="1324.5" x2="561.30" y2="1324.5" stroke="#222" stroke-width="1.2"/>
<line x1="366.30" y1="1324.5" x2="366.30" y2="1331.5" stroke="#222" stroke-width="1.2"/>
<text x="366.30" y="1349.6" text-anchor="middle" fill="#111" font-size="11.6">0</text>
<line x1="405.30" y1="1324.5" x2="405.30" y2="1331.5" stroke="#222" stroke-width="1.2"/>
<text x="405.30" y="1349.6" text-anchor="middle" fill="#111" font-size="11.6">0.2</text>
<line x1="444.30" y1="1324.5" x2="444.30" y2="1331.5" stroke="#222" stroke-width="1.2"/>
<text x="444.30" y="1349.6" text-anchor="middle" fill="#111" font-size="11.6">0.4</text>
<line x1="483.30" y1="1324.5" x2="483.30" y2="1331.5" stroke="#222" stroke-width="1.2"/>
<text x="483.30" y="1349.6" text-anchor="middle" fill="#111" font-size="11.6">0.6</text>
<line x1="522.30" y1="1324.5" x2="522.30" y2="1331.5" stroke="#222" stroke-width="1.2"/>
<text x="522.30" y="1349.6" text-anchor="middle" fill="#111" font-size="11.6">0.8</text>
<line x1="561.30" y1="1324.5" x2="561.30" y2="1331.5" stroke="#222" stroke-width="1.2"/>
<text x="561.30" y="1349.6" text-anchor="middle" fill="#111" font-size="11.6">1</text>
<text x="463.80" y="1368.3" text-anchor="middle" fill="#111" font-size="11.6">Strain transmissibility</text>
<text x="490.5" y="663.0" style="font-family:'Liberation Serif',serif" font-size="16.4" fill="#111">Persistence: 3rd day - 4mo</text>
<text x="534.1" y="988.6" style="font-family:'Liberation Serif',serif" font-size="16.4" fill="#111">Persistence: 24h - 4mo</text>
<text x="516.8" y="1012.9" style="font-family:'Liberation Serif',serif" font-size="16.4" fill="#111">** 1 week - 1 month</text>
<text x="516.8" y="1031.9" style="font-family:'Liberation Serif',serif" font-size="16.4" fill="#111">Persistence: 1mo – 6mo</text>
<text x="516.8" y="1050.4" style="font-family:'Liberation Serif',serif" font-size="16.4" fill="#111">and 6mo – 12mo</text>
<text x="486.0" y="625.0" style="font-family:'Liberation Serif',serif" font-size="16.4" fill="#111">**</text>
<line x1="485.3" y1="627" x2="500.9" y2="627" stroke="#555" stroke-width="1.3"/>
<text x="401.0" y="641.0" style="font-family:'Liberation Serif',serif" font-size="16.4" fill="#111">**</text>
<line x1="400.2" y1="643.2" x2="415.7" y2="643.2" stroke="#555" stroke-width="1.3"/>
</svg>
</body></html>
